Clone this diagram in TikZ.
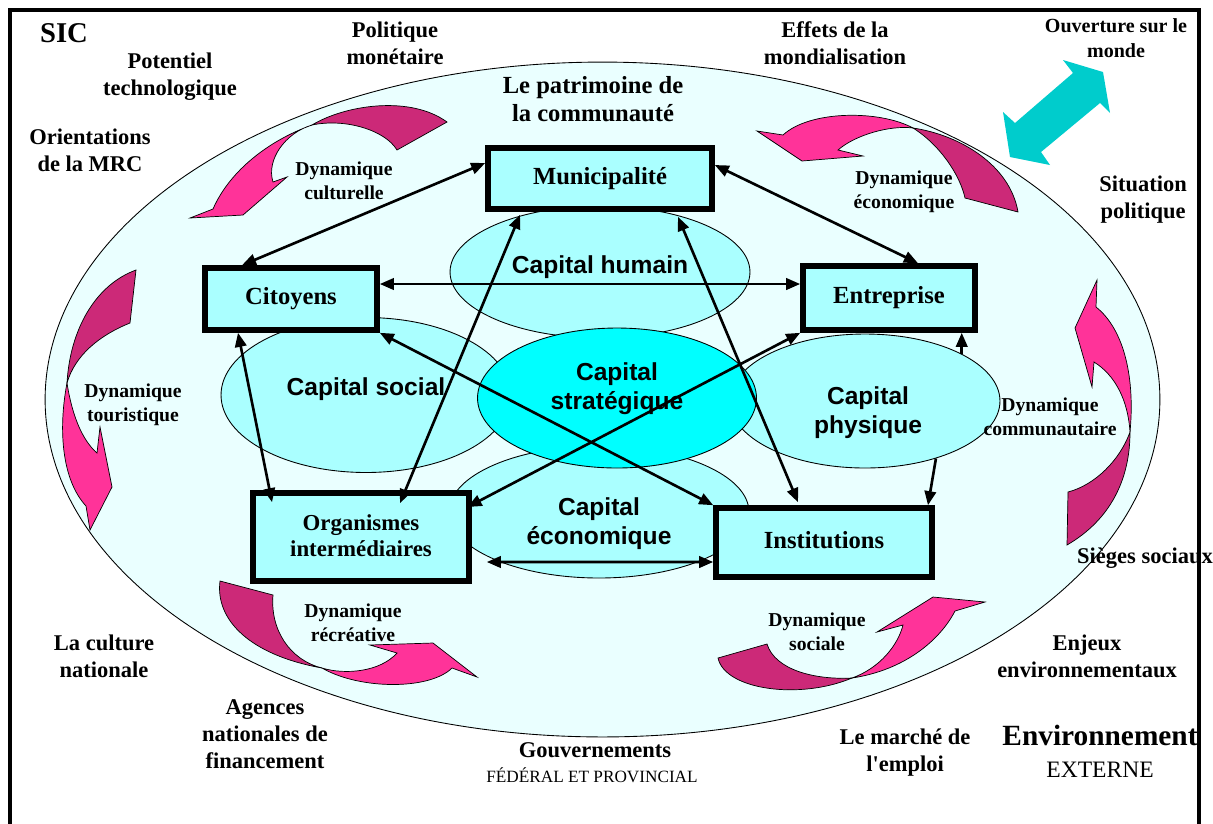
\documentclass[tikz,border=0pt]{standalone}
\usepackage{fontspec}
\setmainfont{Liberation Serif}
\setsansfont{Liberation Sans}
\usepackage{tikz}
\usetikzlibrary{shapes.geometric, arrows.meta, calc}
\definecolor{paleaqua}{RGB}{234,255,255}
\definecolor{lightaqua}{RGB}{170,255,255}
\definecolor{strongaqua}{RGB}{0,255,255}
\definecolor{hotpink}{RGB}{255,51,153}
\definecolor{deeppink}{RGB}{204,41,120}
\definecolor{tealarrow}{RGB}{0,204,204}

\begin{document}
\begin{tikzpicture}[
    x=0.02cm, y=-0.02cm,
    actor/.style={
      rectangle,
      draw=black,
      fill=lightaqua,
      line width=3.2pt,
      align=center,
      inner sep=2pt,
      font=\bfseries\fontsize{14}{16}\selectfont
    },
    capital/.style={
      ellipse,
      draw=black,
      line width=0.5pt,
      fill=lightaqua,
      inner sep=0pt
    },
    captext/.style={
      align=center,
      font=\sffamily\bfseries\fontsize{14}{16.5}\selectfont
    },
    outer/.style={
      align=center,
      font=\bfseries\fontsize{12.8}{15.3}\selectfont
    },
    dyn/.style={
      align=center,
      font=\bfseries\fontsize{11.2}{13.6}\selectfont
    },
    back/.style={fill=deeppink, draw=black, line width=0.4pt},
    front/.style={fill=hotpink, draw=black, line width=0.4pt},
    link/.style={
      >={Triangle[length=8pt,width=6.5pt]},
      line width=1.5pt
    }
  ]
    \useasboundingbox (0,0) rectangle (1213,823);
    \clip (0,0) rectangle (1213,823);

    % Community heritage
    \node (patrimoine) [ellipse, draw=black, fill=paleaqua, line width=0.5pt, inner sep=0pt,
      minimum width=22.3cm, minimum height=13.5cm] at (602.5,399.5) {};

    % Dynamics arrows
    \draw [back] (312,125) .. controls (345,105) and (410,95) .. (447,122) -- (397,150)
      .. controls (385,130) and (345,118) .. (312,125) -- cycle;
    \draw [front] (312,125) .. controls (270,140) and (230,170) .. (213,209) -- (190,218)
      -- (243,215) -- (287,177) -- (273,182) .. controls (266,160) and (285,133) .. (312,125) -- cycle;

    \draw [front] (913,128) .. controls (880,110) and (810,110) .. (783,135) -- (757,131)
      -- (802,161) -- (863,156) -- (838,150) .. controls (855,135) and (890,125) .. (913,128) -- cycle;
    \draw [back] (913,128) .. controls (960,135) and (1010,165) .. (1018,212) -- (965,198)
      .. controls (960,175) and (940,145) .. (913,128) -- cycle;

    \draw [back] (67,383) .. controls (70,330) and (95,285) .. (136,270) -- (130,323)
      .. controls (100,335) and (75,355) .. (67,383) -- cycle;
    \draw [front] (67,383) .. controls (58,430) and (62,480) .. (86,506) -- (90,530)
      -- (112,487) -- (100,427) -- (97,453) .. controls (82,440) and (72,415) .. (67,383) -- cycle;

    \draw [front] (1097,280) -- (1075,328) -- (1092,387) -- (1094,362)
      .. controls (1115,375) and (1128,400) .. (1130,432)
      .. controls (1135,380) and (1125,330) .. (1096,307) -- cycle;
    \draw [back] (1130,432) .. controls (1130,480) and (1110,520) .. (1067,545) -- (1068,492)
      .. controls (1095,485) and (1120,460) .. (1130,432) -- cycle;

    \draw [back] (220,581) .. controls (215,620) and (250,655) .. (322,668)
      .. controls (290,660) and (270,630) .. (273,595) -- cycle;
    \draw [front] (322,668) .. controls (360,690) and (430,690) .. (452,668) -- (477,677)
      -- (433,643) -- (370,645) -- (397,653) .. controls (380,672) and (345,675) .. (322,668) -- cycle;

    \draw [back] (718,658) .. controls (725,690) and (800,700) .. (852,678)
      .. controls (815,680) and (775,670) .. (767,644) -- cycle;
    \draw [front] (852,678) .. controls (905,670) and (940,640) .. (955,611) -- (985,602)
      -- (933,597) -- (877,632) -- (903,625) .. controls (898,645) and (880,668) .. (852,678) -- cycle;

    % Opening to the world
    \fill [tealarrow] (1010,157) -- (1003,112) -- (1015,123) -- (1073,73) -- (1063,60)
      -- (1103,72) -- (1110,113) -- (1100,103) -- (1041,152) -- (1050,165) -- cycle;

    % Capitals
    \node (chum) [capital, minimum width=6cm, minimum height=2.64cm] at (600,272) {};
    \node (csoc) [capital, minimum width=5.8cm, minimum height=3.1cm] at (366,395) {};
    \node (cphys) [capital, minimum width=5.4cm, minimum height=2.68cm] at (865,401) {};
    \node (cecon) [capital, minimum width=6cm, minimum height=2.64cm] at (599,512) {};
    \node (cstrat) [capital, fill=strongaqua, minimum width=5.58cm, minimum height=2.8cm] at (617,398) {};

    \node (chumtext) [captext] at ([yshift=0.1cm]chum.center) {Capital humain};
    \node (csoctext) [captext] at ([yshift=0.12cm]csoc.center) {Capital social};
    \node (cphystext) [captext] at ([xshift=0.06cm,yshift=-0.24cm]cphys.center) {Capital\\physique};
    \node (cecontext) [captext] at ([yshift=-0.24cm]cecon.center) {Capital\\économique};
    \node (cstrattext) [captext] at ([yshift=0.18cm]cstrat.center) {Capital\\stratégique};

    % Actors
    \node (muni) [actor, minimum width=4.48cm, minimum height=1.22cm] at (600,178.5) {Municipalité};
    \node (cit) [actor, minimum width=3.44cm, minimum height=1.24cm] at (291,299) {Citoyens};
    \node (ent) [actor, minimum width=3.44cm, minimum height=1.28cm] at (889,298) {Entreprise};
    \node (org) [actor, minimum width=4.32cm, minimum height=1.76cm,
      font=\bfseries\fontsize{13}{14.7}\selectfont] at (361,537) {\raisebox{0.06cm}{Organismes}\\\raisebox{0.06cm}{intermédiaires}};
    \node (inst) [actor, minimum width=4.32cm, minimum height=1.38cm] at (824,542.5) {\raisebox{0.1cm}{Institutions}};

    % Connections
    \draw [link, <->] ([yshift=0.31cm]muni.west) -- ([xshift=-0.98cm]cit.north);
    \draw [link, <->] ([yshift=0.27cm]muni.east) -- ([xshift=0.58cm]ent.north);
    \draw [link, <->] ([yshift=0.3cm]cit.east) -- ([yshift=0.3cm]cit.east -| ent.west);
    \draw [link, <->] ([xshift=-1.06cm]cit.south) -- ([xshift=-1.78cm,yshift=-0.24cm]org.north);
    \draw [link, <->] ([xshift=0.78cm,yshift=-0.26cm]org.north) -- ([xshift=-1.6cm,yshift=-0.06cm]muni.south);
    \draw [link, <->] (cit.south east) -- (inst.north west);
    \draw [link, <->] (ent.south west) -- ([xshift=0.38cm,yshift=0.1cm]cecon.west);
    \draw [link, <->] ([xshift=1.56cm,yshift=-0.1cm]muni.south) -- ([xshift=-0.52cm,yshift=0.06cm]inst.north);
    \draw [link, ->] (cphys.26) -- (cphys.26 |- ent.south);
    \draw [link, ->] (cphys.-39) -- ([xshift=2.08cm]inst.north);
    \draw [link, <->] ([xshift=0.3cm,yshift=-0.5cm]org.east) -- ([yshift=-0.39cm]inst.west);

    % Labels
    \node (sic) [font=\bfseries\fontsize{16.3}{19}\selectfont] at (64,33) {SIC};
    \node (potentiel) [outer] at (170,77) {Potentiel\\technologique};
    \node (politique) [outer] at (395,43) {Politique\\monétaire};
    \node (effets) [outer] at (835,43) {Effets de la\\mondialisation};
    \node (ouverture) [outer, font=\bfseries\fontsize{11.4}{14.2}\selectfont] at (1116,38) {Ouverture sur le\\monde};
    \node (orient) [outer] at (90,150) {Orientations\\de la MRC};
    \node (situation) [outer] at (1143,200) {Situation\\politique};
    \node (patlabel) [outer, font=\bfseries\fontsize{14}{16}\selectfont] at (593,99) {Le patrimoine de\\la communauté};
    \node (dculture) [dyn] at (344,181) {Dynamique\\culturelle};
    \node (deco) [dyn] at (904,192) {Dynamique\\économique};
    \node (dtour) [dyn] at (133,405) {Dynamique\\touristique};
    \node (dcomm) [dyn] at (1050,417) {Dynamique\\communautaire};
    \node (sieges) [outer] at (1145,558) {Sièges sociaux};
    \node (drecre) [dyn] at (353,623) {Dynamique\\récréative};
    \node (dsoc) [dyn] at (817,632) {Dynamique\\sociale};
    \node (culture) [outer] at (104,656) {La culture\\nationale};
    \node (enjeux) [outer] at (1087,656) {Enjeux\\environnementaux};
    \node (agences) [outer] at (265,734) {Agences\\nationales de\\financement};
    \node (gouv) [outer] at (595,750) {Gouvernements};
    \node (federal) [font=\fontsize{9.8}{12}\selectfont] at (592,775) {FÉDÉRAL ET PROVINCIAL};
    \node (marche) [outer] at (905,753) {Le marché de\\l\textquotesingle emploi};
    \node (envir) [font=\bfseries\fontsize{16.7}{19}\selectfont] at (1100,735) {Environnement};
    \node (externe) [font=\fontsize{13.4}{16}\selectfont] at (1100,770) {EXTERNE};

    % Frame
    \draw [line width=2.6pt] (10,860) -- (10,10) -- (1199,10) -- (1199,860);

\end{tikzpicture}
\end{document}
